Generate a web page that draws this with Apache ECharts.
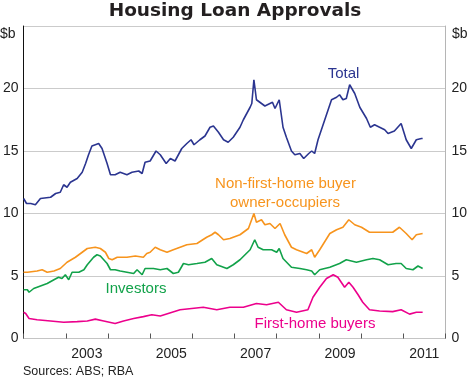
<!DOCTYPE html>
<html><head><meta charset="utf-8">
<script src="https://cdn.jsdelivr.net/npm/echarts@6/dist/echarts.min.js"></script>
<style>html,body{margin:0;padding:0;background:#fff}#c{width:470px;height:384px}</style>
</head><body><div id="c"></div>
<script>
// x-axis year bands (ticks at year boundaries, labels centred in the year)
const yearCategories = ['2002','2003','2004','2005','2006','2007','2008','2009','2010','2011'];
const yTicks = [0, 5, 10, 15, 20, 25];

// [decimal year, $b]
const totalData = [[2002.00,11.2],[2002.07,10.8],[2002.17,10.8],[2002.28,10.7],[2002.40,11.2],[2002.64,11.3],[2002.76,11.6],[2002.87,11.7],[2002.95,12.3],[2003.03,12.1],[2003.11,12.5],[2003.27,12.8],[2003.39,13.3],[2003.47,14.0],[2003.54,14.7],[2003.62,15.4],[2003.78,15.6],[2003.86,15.2],[2003.98,14.0],[2004.06,13.1],[2004.17,13.1],[2004.29,13.3],[2004.45,13.1],[2004.57,13.3],[2004.73,13.4],[2004.81,13.2],[2004.88,14.1],[2005.00,14.2],[2005.14,15.0],[2005.24,14.7],[2005.38,14.0],[2005.48,14.4],[2005.59,14.2],[2005.75,15.2],[2005.87,15.6],[2005.97,15.9],[2006.04,15.5],[2006.18,15.9],[2006.30,16.2],[2006.42,16.9],[2006.50,17.0],[2006.62,16.5],[2006.74,15.9],[2006.85,15.7],[2006.97,16.1],[2007.13,16.9],[2007.21,17.5],[2007.37,18.5],[2007.41,18.8],[2007.46,20.7],[2007.52,19.1],[2007.60,18.9],[2007.72,18.6],[2007.84,18.8],[2007.90,18.9],[2007.96,18.4],[2008.06,19.1],[2008.15,16.9],[2008.23,16.1],[2008.35,15.0],[2008.43,14.7],[2008.55,14.8],[2008.64,14.4],[2008.76,14.8],[2008.83,15.0],[2008.90,14.8],[2008.98,15.9],[2009.14,17.5],[2009.30,19.1],[2009.42,19.3],[2009.49,19.5],[2009.57,19.1],[2009.65,19.2],[2009.73,20.3],[2009.85,19.6],[2009.97,18.5],[2010.13,17.6],[2010.22,16.9],[2010.32,17.1],[2010.44,16.9],[2010.56,16.7],[2010.64,16.4],[2010.79,16.6],[2010.95,17.2],[2011.07,15.9],[2011.19,15.2],[2011.31,15.9],[2011.43,16.0],[2011.46,16.0]];

const ownerOccData = [[2002.00,5.3],[2002.09,5.3],[2002.32,5.4],[2002.44,5.5],[2002.56,5.3],[2002.72,5.4],[2002.87,5.6],[2003.03,6.1],[2003.23,6.5],[2003.39,6.9],[2003.51,7.2],[2003.70,7.3],[2003.82,7.2],[2003.94,6.9],[2004.02,6.4],[2004.10,6.3],[2004.22,6.5],[2004.45,6.5],[2004.65,6.6],[2004.84,6.5],[2004.92,6.8],[2005.00,6.9],[2005.12,7.3],[2005.24,7.1],[2005.40,6.9],[2005.55,7.1],[2005.87,7.5],[2006.11,7.6],[2006.34,8.1],[2006.46,8.3],[2006.54,8.5],[2006.62,8.3],[2006.74,7.9],[2006.89,8.0],[2007.13,8.3],[2007.33,8.8],[2007.46,10.0],[2007.52,9.3],[2007.64,9.5],[2007.72,9.1],[2007.84,9.2],[2007.96,8.8],[2008.08,9.2],[2008.19,8.3],[2008.35,7.3],[2008.47,7.1],[2008.71,6.8],[2008.83,7.1],[2008.90,6.5],[2009.02,7.1],[2009.26,8.4],[2009.42,8.7],[2009.57,8.9],[2009.71,9.5],[2009.85,9.1],[2010.01,8.9],[2010.20,8.5],[2010.44,8.5],[2010.75,8.5],[2010.91,8.9],[2011.07,8.4],[2011.21,7.9],[2011.31,8.3],[2011.46,8.4]];

const investorData = [[2002.00,3.9],[2002.09,3.9],[2002.13,3.7],[2002.24,4.0],[2002.40,4.2],[2002.56,4.4],[2002.72,4.7],[2002.83,4.9],[2002.91,4.8],[2002.99,5.1],[2003.07,4.7],[2003.15,5.3],[2003.31,5.3],[2003.43,5.5],[2003.51,5.9],[2003.66,6.5],[2003.74,6.7],[2003.82,6.6],[2003.90,6.3],[2003.98,6.0],[2004.06,5.5],[2004.17,5.5],[2004.29,5.4],[2004.45,5.3],[2004.61,5.2],[2004.69,5.5],[2004.81,5.1],[2004.88,5.6],[2005.08,5.6],[2005.24,5.5],[2005.40,5.6],[2005.55,5.2],[2005.67,5.3],[2005.79,6.0],[2005.91,5.9],[2006.11,6.0],[2006.30,6.1],[2006.46,6.4],[2006.58,5.9],[2006.82,5.6],[2006.97,5.9],[2007.13,6.3],[2007.37,7.1],[2007.48,7.9],[2007.56,7.3],[2007.68,7.1],[2007.88,7.1],[2008.00,6.9],[2008.06,7.2],[2008.15,6.4],[2008.35,5.7],[2008.55,5.6],[2008.71,5.5],[2008.83,5.4],[2008.90,5.1],[2009.02,5.5],[2009.26,5.7],[2009.49,6.0],[2009.65,6.3],[2009.89,6.1],[2010.13,6.3],[2010.28,6.4],[2010.44,6.3],[2010.64,5.9],[2010.83,6.0],[2010.95,6.0],[2011.07,5.6],[2011.23,5.5],[2011.35,5.8],[2011.46,5.6]];

const firstHomeData = [[2002.00,2.1],[2002.05,2.0],[2002.13,1.6],[2002.32,1.5],[2002.64,1.4],[2002.95,1.3],[2003.27,1.35],[2003.51,1.4],[2003.70,1.55],[2003.90,1.4],[2004.17,1.2],[2004.37,1.4],[2004.61,1.6],[2004.84,1.75],[2005.04,1.9],[2005.24,1.8],[2005.71,2.3],[2006.26,2.5],[2006.58,2.3],[2006.89,2.5],[2007.21,2.5],[2007.52,2.8],[2007.76,2.7],[2008.04,2.9],[2008.23,2.3],[2008.47,2.1],[2008.74,2.3],[2008.86,3.3],[2009.02,4.1],[2009.18,4.8],[2009.34,5.1],[2009.45,4.9],[2009.61,4.1],[2009.71,4.5],[2009.81,4.1],[2009.93,3.5],[2010.04,2.9],[2010.20,2.3],[2010.44,2.2],[2010.75,2.15],[2010.95,2.3],[2011.15,1.95],[2011.31,2.1],[2011.46,2.1]];

const FONT = '"Liberation Sans", Arial, sans-serif';
const C_TOTAL = '#2b3590', C_OWN = '#f7941d', C_INV = '#12a24a', C_FHB = '#ec008c';

const chart = echarts.init(document.getElementById('c'), null, {renderer: 'canvas'});
const yLabel = {fontSize: 14, color: '#222', fontFamily: FONT,
  formatter: v => (v === yTicks[yTicks.length - 1] ? '' : String(v))};

function line(name, data, color) {
  return {name, type: 'line', data, xAxisIndex: 1, yAxisIndex: 0, showSymbol: false,
    symbol: 'none', lineStyle: {color, width: 1.6}, itemStyle: {color}, silent: true};
}

function txt(text, x, y, color, size, weight, family) {
  return {type: 'text', x, y, silent: true, style: {text, fill: color,
    font: (weight || 'normal') + ' ' + size + 'px ' + (family || FONT),
    textAlign: 'center', textVerticalAlign: 'middle', align: 'center', verticalAlign: 'middle'}};
}

chart.setOption({
  animation: false,
  backgroundColor: '#fff',
  grid: {left: 23, right: 24, top: 26, bottom: 45.5, containLabel: false},
  xAxis: [
    {type: 'category', data: yearCategories, boundaryGap: true, position: 'bottom',
     axisLine: {show: true, lineStyle: {color: '#c4c4c4', width: 1}},
     axisTick: {show: true, inside: true, length: 5, interval: 0, lineStyle: {color: '#555'}},
     axisLabel: {interval: (i) => i % 2 === 1, margin: 9, fontSize: 14, color: '#222', fontFamily: FONT},
     splitLine: {show: false}},
    {type: 'value', min: 2002, max: 2012, show: false}
  ],
  yAxis: [
    {type: 'value', min: 0, max: 25, interval: 5, position: 'left',
     axisLine: {show: true, lineStyle: {color: '#111', width: 1}}, axisTick: {show: false},
     axisLabel: Object.assign({margin: 5}, yLabel),
     splitLine: {show: true, lineStyle: {color: '#cbcbcb', width: 1}}},
    {type: 'value', min: 0, max: 25, interval: 5, position: 'right',
     axisLine: {show: true, lineStyle: {color: '#b5b5b5', width: 1}}, axisTick: {show: false},
     axisLabel: Object.assign({margin: 6}, yLabel),
     splitLine: {show: false}}
  ],
  series: [
    line('Total', totalData, C_TOTAL),
    line('Non-first-home buyer owner-occupiers', ownerOccData, C_OWN),
    line('Investors', investorData, C_INV),
    line('First-home buyers', firstHomeData, C_FHB)
  ],
  graphic: [
    txt('Housing Loan Approvals', 235, 11, '#231f20', 18.5, 'bold', '"DejaVu Sans", sans-serif'),
    {type: 'text', x: 0, y: 34, silent: true, style: {text: '$b', fill: '#222', font: '14px ' + FONT, textAlign: 'left', textVerticalAlign: 'middle', align: 'left', verticalAlign: 'middle'}},
    {type: 'text', x: 452, y: 34, silent: true, style: {text: '$b', fill: '#222', font: '14px ' + FONT, textAlign: 'left', textVerticalAlign: 'middle', align: 'left', verticalAlign: 'middle'}},
    txt('Total', 343.5, 74, C_TOTAL, 15),
    txt('Non-first-home buyer', 285.5, 184, C_OWN, 15),
    txt('owner-occupiers', 285, 203, C_OWN, 15),
    txt('Investors', 136, 289, C_INV, 15),
    txt('First-home buyers', 315, 324, C_FHB, 15),
    {type: 'text', x: 23, y: 372, silent: true, style: {text: 'Sources: ABS; RBA', fill: '#222', font: '12.5px ' + FONT, textAlign: 'left', textVerticalAlign: 'middle', align: 'left', verticalAlign: 'middle'}}
  ]
});
</script></body></html>
